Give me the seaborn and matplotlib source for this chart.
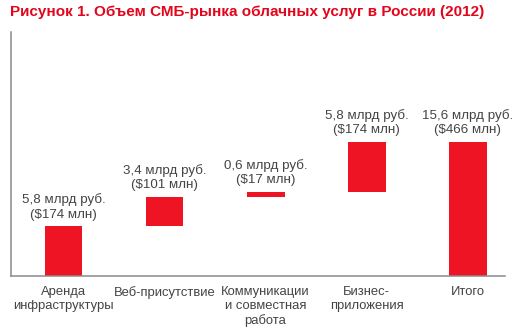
import matplotlib
matplotlib.use("Agg")
import matplotlib.pyplot as plt
import seaborn as sns
import pandas as pd
import numpy as np

categories = ["Аренда\nинфраструктуры", "Веб-присутствие",
              "Коммуникации\nи совместная\nработа", "Бизнес-\nприложения", "Итого"]
values_rub = [5.8, 3.4, 0.6, 5.8, 15.6]          # млрд руб.
bottoms = [0.0, 5.8, 9.2, 9.8, 0.0]              # waterfall starts
labels = ["5,8 млрд руб.\n($174 млн)", "3,4 млрд руб.\n($101 млн)",
          "0,6 млрд руб.\n($17 млн)", "5,8 млрд руб.\n($174 млн)",
          "15,6 млрд руб.\n($466 млн)"]
title = "Рисунок 1. Объем СМБ-рынка облачных услуг в России (2012)"

sns.set_theme(style="white")
plt.rcParams["font.family"] = ["Liberation Sans", "DejaVu Sans"]

RED = "#EE1423"
GREY = "#8a8a8a"
TXT = "#444444"

fig = plt.figure(figsize=(5.27, 3.32), dpi=100)
ax = fig.add_axes([11/527, (332-276)/332, (505-11)/527, (276-32)/332])

df = pd.DataFrame({"cat": categories, "val": values_rub})
sns.barplot(data=df, x="cat", y="val", order=categories, color=RED,
            saturation=1, width=0.375, bottom=np.array(bottoms), ax=ax,
            errorbar=None, linewidth=0)

for i, (b, v, lab) in enumerate(zip(bottoms, values_rub, labels)):
    ax.annotate(lab, xy=(i, b + v), xytext=(0, 4), textcoords="offset points",
                ha="center", va="bottom", fontsize=9.6, color=TXT, linespacing=1.3)

ax.set_xlim(-0.52, 4.37)
ax.set_ylim(0, 28.4)
ax.set_xlabel("")
ax.set_ylabel("")
ax.set_yticks([])
ax.tick_params(axis="x", length=0, pad=7, labelsize=9.4, labelcolor=TXT)
for lab in ax.get_xticklabels():
    lab.set_linespacing(1.25)
    lab.set_va("top")
sns.despine(ax=ax, top=True, right=True)
for s in ["left", "bottom"]:
    ax.spines[s].set_color(GREY)
    ax.spines[s].set_linewidth(1.1)

fig.text(10/527, 1 - 5/332, title, ha="left", va="top", fontsize=11,
         fontweight="bold", color="#E3051B")

fig.savefig("out.png", dpi=100)
